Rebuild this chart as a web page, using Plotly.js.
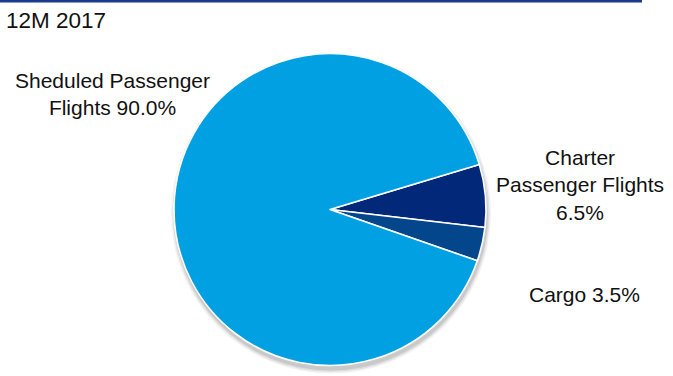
<!DOCTYPE html>
<html>
<head>
<meta charset="utf-8">
<script src="https://cdn.plot.ly/plotly-3.0.1.min.js"></script>
<style>
  html, body { margin: 0; padding: 0; background: #ffffff; }
  #chart { width: 673px; height: 376px; }
</style>
</head>
<body>
<div id="chart"></div>
<script>
// ---- data ----
var chartTitle = '12M 2017';
var labels = ['Charter<br>Passenger Flights', 'Cargo', 'Sheduled Passenger<br>Flights'];
var labelSeparators = ['<br>', ' ', ' '];
var values = [6.5, 3.5, 90.0];
var colors = ['#02287a', '#03468b', '#00a0e2'];

// ---- layout helpers (positions only) ----
var W = 673, H = 376;
var cx = 330, cy = 209.5, R = 156;
var labelPos = [
  {x: 580, y: 185},
  {x: 584, y: 294},
  {x: 113, y: 94}
];

function px(x) { return x / W; }
function py(y) { return 1 - y / H; }

var annotations = labels.map(function (l, i) {
  return {
    text: l + labelSeparators[i] + values[i].toFixed(1) + '%',
    xref: 'paper', yref: 'paper',
    x: px(labelPos[i].x), y: py(labelPos[i].y),
    xanchor: 'center', yanchor: 'middle',
    showarrow: false,
    align: 'center',
    font: {family: 'Liberation Sans, Arial, sans-serif', size: 21, color: '#111111'}
  };
});

var shapes = [
  {type: 'rect', xref: 'paper', yref: 'paper', x0: 0, x1: px(642), y0: py(2.5), y1: 1,
   fillcolor: '#1d3a8a', line: {width: 0}, layer: 'above'}
];
// soft drop shadow behind the pie
[[160, 0.08], [158.5, 0.12], [157, 0.16]].forEach(function (s) {
  shapes.push({
    type: 'circle', xref: 'paper', yref: 'paper', layer: 'below',
    x0: px(cx + 1 - s[0]), x1: px(cx + 1 + s[0]),
    y0: py(cy + 4 + s[0]), y1: py(cy + 4 - s[0]),
    fillcolor: 'rgba(90,90,90,' + s[1] + ')', line: {width: 0}
  });
});

var trace = {
  type: 'pie',
  labels: labels,
  values: values,
  sort: false,
  direction: 'clockwise',
  rotation: 73.2,
  textinfo: 'none',
  hoverinfo: 'none',
  showlegend: false,
  marker: {colors: colors, line: {color: '#ffffff', width: 1.6}},
  domain: {x: [px(cx - R), px(cx + R)], y: [py(cy + R), py(cy - R)]}
};

var layout = {
  width: W, height: H,
  margin: {l: 0, r: 0, t: 0, b: 0},
  paper_bgcolor: '#ffffff',
  plot_bgcolor: '#ffffff',
  title: {
    text: chartTitle,
    x: px(6), xanchor: 'left',
    y: py(20), yanchor: 'middle',
    font: {family: 'Liberation Sans, Arial, sans-serif', size: 22.5, color: '#111111'}
  },
  annotations: annotations,
  shapes: shapes
};

Plotly.newPlot('chart', [trace], layout, {displayModeBar: false, staticPlot: true});
</script>
</body>
</html>
